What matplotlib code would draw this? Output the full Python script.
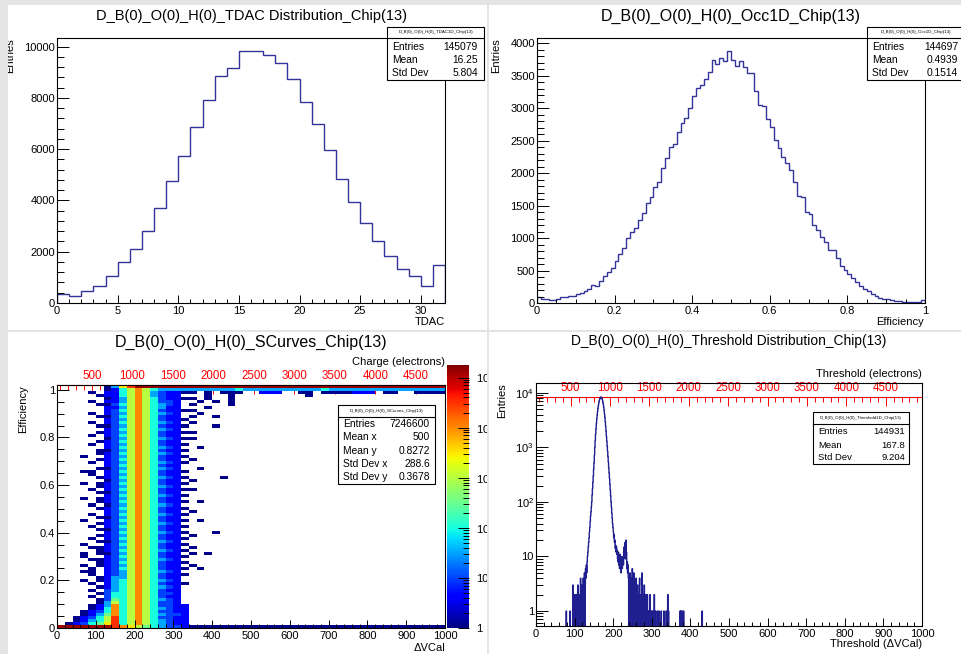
import numpy as np
import matplotlib
matplotlib.use("Agg")
import matplotlib.pyplot as plt
from matplotlib.colors import LogNorm
from matplotlib.patches import Rectangle
from matplotlib.ticker import MultipleLocator, LogLocator, FuncFormatter, NullFormatter

plt.rcParams['font.family'] = ['Liberation Sans', 'DejaVu Sans']
plt.rcParams['mathtext.fontset'] = 'custom'
plt.rcParams['mathtext.rm'] = 'Liberation Sans'
plt.rcParams['mathtext.it'] = 'Liberation Sans:italic'

W, H = 961, 654
LINE = '#333399'

# ---- TDAC distribution (32 bins, 0..32)
tdac_counts = [360, 260, 455, 675, 1040, 1585, 2100, 2805, 3700, 4740,
               5730, 6860, 7910, 8860, 9160, 9845, 9845, 9660, 9350, 8730,
               7830, 6975, 5950, 4845, 3935, 3115, 2415, 1830, 1325, 1040,
               675, 1470]

# ---- Occupancy (100 bins, 0..1)
occ_counts = [87, 67, 56, 51, 46, 67, 87, 92, 103, 113,
              133, 154, 185, 220, 272, 262, 344, 421, 472, 539,
              646, 754, 846, 995, 1093, 1149, 1272, 1385, 1539, 1641,
              1780, 1857, 2073, 2237, 2411, 2447, 2632, 2770, 2847, 3001,
              3186, 3309, 3360, 3447, 3565, 3740, 3678, 3776, 3735, 3889,
              3745, 3653, 3730, 3642, 3550, 3550, 3273, 3052, 3037, 2842,
              2719, 2514, 2396, 2257, 2155, 2052, 1857, 1652, 1641, 1406,
              1370, 1200, 1129, 1011, 934, 821, 810, 687, 564, 503,
              451, 380, 318, 267, 215, 190, 133, 103, 77, 67,
              56, 41, 31, 26, 21, 21, 18, 15, 15, 51]

# ---- Threshold distribution (1 DeltaVCal bins, 0..1000)
thr_tail_left_bins = [78, 88, 95, 98, 100, 102, 104, 106, 108, 110, 111, 113, 115, 117,
                      119, 120, 122, 124, 125, 127, 128, 129, 130, 131, 132]
thr_tail_left_counts = [1, 1, 3, 1, 2, 1, 2, 1, 3, 1, 2, 1, 4, 2,
                        3, 1, 4, 2, 5, 3, 6, 4, 7, 5, 8]
thr_core_first = 133
thr_core_counts = [10, 12, 15, 18, 22, 28, 34, 44, 55, 66,
                   82, 100, 135, 175, 230, 300, 400, 520, 720, 1000,
                   1350, 1750, 2200, 2750, 3300, 3900, 4550, 5200, 5800, 6400,
                   6950, 7450, 7850, 8150, 8350, 8400, 8300, 8050, 7700, 7250,
                   6700, 6100, 5450, 4800, 4150, 3550, 2950, 2450, 2000, 1600,
                   1300, 1050, 850, 680, 540, 430, 340, 270, 210, 165,
                   130, 100, 80, 62, 50, 40, 34, 28, 22, 25,
                   18, 20, 14, 16, 12, 15, 11, 13, 9, 8,
                   12, 7, 10, 6, 11, 8, 9, 5, 7, 10,
                   6, 8, 9, 7, 12, 15, 11, 18, 9, 14,
                   20, 12, 6, 8, 5, 7, 4]
thr_tail_right_bins = [241, 243, 244, 246, 247, 249, 250, 252, 253, 255, 256, 258, 259,
                       261, 262, 264, 265, 267, 268, 270, 272, 274, 275, 277, 279, 280,
                       282, 284, 286, 288, 290, 293, 295, 297, 300, 303, 306, 309, 314,
                       318, 324, 331, 337, 341, 343, 373, 375, 378, 382, 430]
thr_tail_right_counts = [3, 5, 2, 4, 1, 6, 3, 2, 5, 1, 3, 2, 4,
                         1, 3, 2, 1, 3, 4, 1, 2, 5, 1, 2, 1, 3,
                         1, 2, 1, 2, 1, 1, 2, 1, 1, 1, 2, 1, 1,
                         1, 1, 1, 1, 2, 1, 1, 1, 1, 1, 1]

# ---- S-curves 2D map: 50 DeltaVCal bins x 80 efficiency bins, top row first
scurve_levels = {'0': 1.2, '1': 4, '2': 10, '3': 32, '4': 100, '5': 320,
                 '6': 1000, '7': 3200, '8': 10000, '9': 32000, 'R': 130000}
scurve_rows = [
    "......0379RRRRRRRRRRRRRRRRRRRRRRRRRRRRRRRRRRRRRRRR",
    "......01468643333333333433333333334333333333333333",
    "....0.114686321100.0.000..111..00.0000111.00..0000",
    ".....01146863211...0..0.........0",
    "......013686421100.0..0",
    "....0.1136864221..0.0.0",
    ".....00246864321.0....0",
    "......1136864311...0",
    "......124686421100",
    "....0.1236864321..0",
    ".....00246864211.0..0",
    "......12368642110",
    "....0.1246864321.0",
    ".....002368642110...0",
    "......1246864321.",
    ".....0123686421100",
    "....0.1246864211.",
    "......023686432100",
    ".....01246864211.",
    "....0.12368642110",
    "......1246864321..0",
    ".....002368642110",
    ".....01246864321.",
    "...0..12368642110",
    ".....01246864211.0",
    "....0.12368643210",
    "......1246864211.",
    ".....00236864321..0",
    "...00.12468642110",
    "....0.1236864211.",
    ".....012468643210....0",
    "......0236864211.0",
    "...0.012468642110",
    ".....01236864321.",
    "....0.124686421100",
    ".....00236864211.",
    "......12468643210",
    "...0.01236864211.",
    ".....012468642110.0",
    "....0.0236864321.",
    ".....012468642110",
    "......1236864211.0",
    "....0.12468643210",
    ".....00236864211.",
    "...0..12468642110.0",
    ".....01236864321.",
    "....0.12468642110",
    ".....00236864211.",
    "......12468643210...0",
    ".....01236864211.0",
    "....0.12468642110",
    ".....00236864321.",
    "...0..12468642110",
    "....001236864211.0",
    ".....012468643210",
    "...0.00236864211.0.0",
    "...0..12468642110",
    "....001236864321.",
    ".....012468642110",
    "...0.01236864211.0",
    "....0.12468642110.0",
    "...00.1236864321.",
    "....0.12368642110",
    ".....01336864211.",
    "...0.01346864321.",
    "....0.13468642110",
    ".....01346864321.",
    "....0.2346864211.",
    ".....02446864221.",
    "....0.2446864211.",
    ".....02546864321.",
    ".....03646864221.",
    "....0138468642211",
    "....0148468643211",
    "...01248468642211",
    "...01358468643221",
    "..012469468642211",
    "..013469468643211",
    ".0124579468643211",
    "RRRRRRR98765432210000000000000000000000000000000000",
]

# ---- stats boxes
tdac_stats = [("Entries", "145079"), ("Mean", "16.25"), ("Std Dev", "5.804")]
occ_stats = [("Entries", "144697"), ("Mean", "0.4939"), ("Std Dev", "0.1514")]
scurve_stats = [("Entries", "7246600"), ("Mean x", "500"), ("Mean y", "0.8272"),
                ("Std Dev x", "288.6"), ("Std Dev y", "0.3678")]
thr_stats = [("Entries", "144931"), ("Mean", "167.8"), ("Std Dev", "9.204")]


def frac(l, t, r, b):
    return [l / W, 1 - b / H, (r - l) / W, (b - t) / H]


def pow_fmt(v, pos=None):
    if v <= 0:
        return ''
    e = int(round(np.log10(v)))
    if e == 0:
        return '1'
    if e == 1:
        return '10'
    return r'$10^{%d}$' % e


def root_ticks(ax, ylen=8.4):
    ax.tick_params(which='both', direction='in', top=False, right=False,
                   labelsize=8, width=0.7, colors='black')
    ax.tick_params(axis='x', which='major', length=6, pad=2.5)
    ax.tick_params(axis='x', which='minor', length=3)
    ax.tick_params(axis='y', which='major', length=ylen, pad=1.5)
    ax.tick_params(axis='y', which='minor', length=ylen * 0.57)
    for s in ax.spines.values():
        s.set_linewidth(0.8)


def gfmt(v, pos=None):
    return '%g' % v


def ftext(x, y, s, **kw):
    return fig.text(x / W, 1 - y / H, s, **kw)


def grey_rect(l, t, r, b, color, z):
    fig.add_artist(Rectangle((l / W, 1 - b / H), (r - l) / W, (b - t) / H,
                             transform=fig.transFigure, facecolor=color,
                             edgecolor='none', zorder=z))


def stats_box(l, t, r, b, hb, head, rows, row_ys, lx, rx, fs):
    fig.add_artist(Rectangle((l / W, 1 - b / H), (r - l) / W, (b - t) / H,
                             transform=fig.transFigure, facecolor='white',
                             edgecolor='black', lw=0.8, zorder=10))
    fig.add_artist(plt.Line2D([l / W, r / W], [1 - hb / H, 1 - hb / H],
                              transform=fig.transFigure, color='black', lw=0.8, zorder=11))
    ftext((l + r) / 2, (t + hb) / 2, head, fontsize=3.2, ha='center', va='center', zorder=12)
    for (k, v), y in zip(rows, row_ys):
        ftext(lx, y, k, fontsize=fs, ha='left', va='center', zorder=12)
        ftext(rx, y, v, fontsize=fs, ha='right', va='center', zorder=12)


def charge_axis(ax, loc, slope, offset):
    sec = ax.secondary_xaxis(loc, functions=(lambda v: v * slope + offset,
                                             lambda e: (e - offset) / slope))
    sec.xaxis.set_major_locator(MultipleLocator(500))
    sec.xaxis.set_minor_locator(MultipleLocator(100))
    sec.xaxis.set_major_formatter(FuncFormatter(gfmt))
    sec.tick_params(which='both', direction='in', colors='red', labelsize=8.3, pad=2.5, width=0.7)
    sec.tick_params(which='major', length=6.5)
    sec.tick_params(which='minor', length=3.5)
    for s in sec.spines.values():
        s.set_color('red')
    return sec


fig = plt.figure(figsize=(W / 100, H / 100), dpi=100)
fig.patch.set_facecolor('#e4e4e4')
for l, t, r, b in [(8, 5, 487, 330), (489, 5, 961, 330), (8, 332, 487, 654), (489, 332, 961, 654)]:
    grey_rect(l, t, r, b, 'white', -5)

# ---------------- panel 1: TDAC
ax1 = fig.add_axes(frac(57, 38, 445, 303))
ax1.stairs(tdac_counts, np.arange(len(tdac_counts) + 1), baseline=0, color=LINE, lw=1.0)
ax1.set_xlim(0, len(tdac_counts))
ax1.set_ylim(0, max(tdac_counts) * 1.05)
ax1.xaxis.set_major_locator(MultipleLocator(5))
ax1.xaxis.set_minor_locator(MultipleLocator(1))
ax1.yaxis.set_major_locator(MultipleLocator(2000))
ax1.yaxis.set_minor_locator(MultipleLocator(400))
root_ticks(ax1)
ftext(251, 16, "D_B(0)_O(0)_H(0)_TDAC Distribution_Chip(13)", fontsize=10.5, ha='center', va='center')
ftext(445, 322, "TDAC", fontsize=8, ha='right', va='center')
ftext(10, 38, "Entries", fontsize=8, rotation=90, ha='center', va='top')
stats_box(387, 27, 484, 80, 38, "D_B(0)_O(0)_H(0)_TDAC1D_Chip(13)", tdac_stats,
          [47, 60, 73], 392, 478, 7.4)

# ---------------- panel 2: occupancy
ax2 = fig.add_axes(frac(537, 38, 925, 303))
ax2.stairs(occ_counts, np.linspace(0, 1, len(occ_counts) + 1), baseline=0, color=LINE, lw=1.0)
ax2.set_xlim(0, 1)
ax2.set_ylim(0, max(occ_counts) * 1.05)
ax2.xaxis.set_major_locator(MultipleLocator(0.2))
ax2.xaxis.set_minor_locator(MultipleLocator(0.05))
ax2.yaxis.set_major_locator(MultipleLocator(500))
ax2.yaxis.set_minor_locator(MultipleLocator(100))
ax2.xaxis.set_major_formatter(FuncFormatter(gfmt))
root_ticks(ax2)
ftext(731, 16, "D_B(0)_O(0)_H(0)_Occ1D_Chip(13)", fontsize=11.5, ha='center', va='center')
ftext(924, 322, "Efficiency", fontsize=8, ha='right', va='center')
ftext(496, 38, "Entries", fontsize=8, rotation=90, ha='center', va='top')
stats_box(867, 27, 964, 80, 38, "D_B(0)_O(0)_H(0)_Occ1D_Chip(13)", occ_stats,
          [47, 60, 73], 872, 958, 7.4)

# ---------------- panel 3: S-curves
ax3 = fig.add_axes(frac(57, 385, 445, 628))
grid = np.array([[scurve_levels.get(c, np.nan) for c in row.ljust(50, '.')[:50]]
                 for row in scurve_rows[::-1]])
xedges = np.linspace(0, 1000, grid.shape[1] + 1)
yedges = np.linspace(0, 1.02, grid.shape[0] + 1)
mesh = ax3.pcolormesh(xedges, yedges, np.ma.masked_invalid(grid), cmap='jet',
                      norm=LogNorm(vmin=1, vmax=10 ** 5.25), shading='flat')
ax3.set_xlim(0, 1000)
ax3.set_ylim(0, 1.02)
ax3.xaxis.set_major_locator(MultipleLocator(100))
ax3.xaxis.set_minor_locator(MultipleLocator(20))
ax3.yaxis.set_major_locator(MultipleLocator(0.2))
ax3.yaxis.set_minor_locator(MultipleLocator(0.05))
ax3.yaxis.set_major_formatter(FuncFormatter(gfmt))
root_ticks(ax3)
charge_axis(ax3, 'top', 4.79, 69)
ftext(251, 342, "D_B(0)_O(0)_H(0)_SCurves_Chip(13)", fontsize=11.5, ha='center', va='center')
ftext(445, 362, "Charge (electrons)", fontsize=8, ha='right', va='center')
ftext(445, 648, "ΔVCal", fontsize=8, ha='right', va='center')
ftext(23, 385, "Efficiency", fontsize=8, rotation=90, ha='center', va='top')
stats_box(338, 405, 435, 484, 417, "D_B(0)_O(0)_H(0)_SCurves_Chip(13)", scurve_stats,
          [424, 437, 451, 464, 477], 343, 430, 7.4)

cax = fig.add_axes(frac(447, 365, 469, 628))
cb = fig.colorbar(mesh, cax=cax)
cb.outline.set_visible(False)
cb.locator = LogLocator(10)
cb.minorlocator = LogLocator(10, subs=np.arange(2, 10))
cb.formatter = FuncFormatter(pow_fmt)
cax.tick_params(which='both', direction='in', right=True, left=False, colors='black',
                labelsize=8, width=0.7, pad=5)
cax.tick_params(which='major', length=8)
cax.tick_params(which='minor', length=4.5)

# ---------------- panel 4: threshold
ax4 = fig.add_axes(frac(536, 383, 922, 626))
thr = np.zeros(1000)
thr[thr_tail_left_bins] = thr_tail_left_counts
thr[thr_core_first:thr_core_first + len(thr_core_counts)] = thr_core_counts
thr[thr_tail_right_bins] = thr_tail_right_counts
floor = 1e-3
ax4.stairs(np.where(thr > 0, thr, floor), np.arange(1001), baseline=floor, color='#1f1f8f', lw=1.0)
ylo, yhi = 0.53, 1.52e4
ax4.set_yscale('log')
ax4.set_ylim(ylo, yhi)
ax4.set_xlim(0, 1000)
ax4.xaxis.set_major_locator(MultipleLocator(100))
ax4.xaxis.set_minor_locator(MultipleLocator(20))
ax4.yaxis.set_major_locator(LogLocator(10))
ax4.yaxis.set_minor_locator(LogLocator(10, subs=np.arange(2, 10)))
ax4.yaxis.set_major_formatter(FuncFormatter(pow_fmt))
ax4.yaxis.set_minor_formatter(NullFormatter())
root_ticks(ax4)
peak_pos = (np.log10(thr.max()) - np.log10(ylo)) / (np.log10(yhi) - np.log10(ylo))
charge_axis(ax4, peak_pos, 4.90, 60)
ftext(729, 341, "D_B(0)_O(0)_H(0)_Threshold Distribution_Chip(13)", fontsize=9.9, ha='center', va='center')
ftext(922, 374, "Threshold (electrons)", fontsize=8, ha='right', va='center')
ftext(922, 644, "Threshold (ΔVCal)", fontsize=8, ha='right', va='center')
ftext(502, 383, "Entries", fontsize=8, rotation=90, ha='center', va='top')
stats_box(813, 412, 909, 464, 424, "D_B(0)_O(0)_H(0)_Threshold1D_Chip(13)", thr_stats,
          [431, 445, 458], 818, 905, 6.8)

# canvas borders drawn over the pads (they clip text running past a pad edge)
grey_rect(489, 340, 496, 640, 'white', 29)
for l, t, r, b in [(0, 0, 8, 654), (0, 0, 961, 5), (487, 0, 489, 654), (0, 330, 961, 332)]:
    grey_rect(l, t, r, b, '#e4e4e4', 30)

fig.savefig('out.png', dpi=100)
